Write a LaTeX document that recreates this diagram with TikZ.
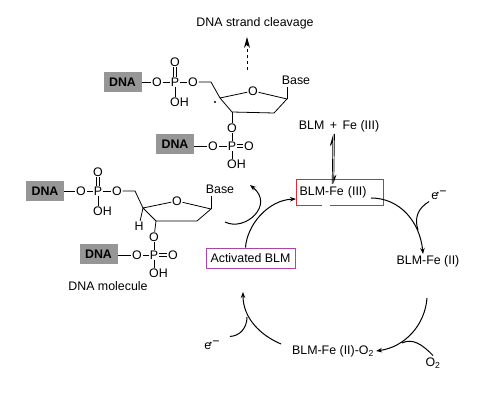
\documentclass[tikz,border=0pt]{standalone}
\usepackage{fontspec}
\setmainfont{Liberation Sans}
\usetikzlibrary{arrows.meta}
\definecolor{dnagray}{RGB}{150,150,150}
\definecolor{boxred}{RGB}{205,50,60}
\definecolor{boxpurple}{RGB}{170,70,170}
\tikzset{
  atom/.style={inner sep=0.6pt,font=\fontsize{12.4}{14}\selectfont},
  dnabox/.style={fill=dnagray,minimum width=38pt,minimum height=20pt,inner sep=0pt,font=\fontsize{12.4}{14}\selectfont\bfseries},
  label/.style={inner sep=2pt,font=\fontsize{12.4}{14}\selectfont},
  bond/.style={line width=0.8pt},
  cycle arrow/.style={line width=1pt,-{Stealth[length=6pt,width=4.5pt]}},
  cycle arc/.style={line width=1pt}
}
\newcommand{\eradical}{e\kern-1.5pt\raisebox{4pt}{\scriptsize•}\kern0.3pt\raisebox{4pt}{−}}
\begin{document}
\begin{tikzpicture}[x=1pt,y=-1pt]
\useasboundingbox[fill=white] (0,0) rectangle (498,411);
\node[label] (cleavage) at (255,23) {DNA strand cleavage};
\coordinate (cleavage-start) at (247,70);
\draw[line width=0.9pt,dashed,-{Stealth[length=11pt,width=6pt]}] (cleavage-start) -- ([yshift=-6pt]cleavage.south -| cleavage-start);
\node[dnabox] (dna-0-0) at (122.5,82) {DNA};
\node[atom] (o-0-0) at (157,82) {O};
\node[atom] (p-0-0) at (175,82) {P};
\node[atom] (o-0-1) at (193,82) {O};
\node[atom] (o-0-2) at (175,62) {O};
\node[atom] (oh-0-0) at (179.5,102) {OH};
\coordinate (ch-0-0) at (211,82);
\coordinate (c-0-0) at (220,98);
\node[atom] (o-0-3) at (253,91) {O};
\coordinate (c-0-1) at (287,99);
\coordinate (c-0-2) at (274,113);
\coordinate (c-0-3) at (232,112);
\node[label] (base-0) at (296,80) {Base};
\fill (215,102) circle (1.2pt);
\node[atom] (o-0-4) at (232,128) {O};
\node[atom] (p-0-1) at (232,146) {P};
\node[atom] (o-0-5) at (213,146) {O};
\node[atom] (o-0-6) at (249,146) {O};
\node[atom] (oh-0-1) at (236.5,164) {OH};
\node[dnabox] (dna-0-1) at (175,144) {DNA};
\draw[bond] (dna-0-0.east) -- (o-0-0);
\draw[bond] (o-0-0) -- (p-0-0);
\draw[bond] (p-0-0) -- (o-0-1);
\draw[bond] ([xshift=-1.6pt]p-0-0.north) -- ([xshift=-1.6pt]o-0-2.south);
\draw[bond] ([xshift=1.6pt]p-0-0.north) -- ([xshift=1.6pt]o-0-2.south);
\draw[bond] (p-0-0.south) -- (p-0-0.south |- oh-0-0.north);
\draw[bond] (o-0-1) -- (ch-0-0) -- (c-0-0) -- (o-0-3) -- (c-0-1) -- (c-0-2) -- (c-0-3) -- (c-0-0);
\draw[bond] (c-0-1) -- (c-0-1 |- base-0.south);
\draw[bond] (c-0-3) -- (o-0-4);
\draw[bond] (o-0-4) -- (p-0-1);
\draw[bond] (p-0-1) -- (o-0-5);
\draw[bond] (dna-0-1.east |- o-0-5) -- (o-0-5);
\draw[bond] ([yshift=-1.6pt]p-0-1.east) -- ([yshift=-1.6pt]o-0-6.west);
\draw[bond] ([yshift=1.6pt]p-0-1.east) -- ([yshift=1.6pt]o-0-6.west);
\draw[bond] (p-0-1.south) -- (p-0-1.south |- oh-0-1.north);
\node[dnabox] (dna-1-0) at (45,191) {DNA};
\node[atom] (o-1-0) at (81,191) {O};
\node[atom] (p-1-0) at (98,191) {P};
\node[atom] (o-1-1) at (117,191) {O};
\node[atom] (o-1-2) at (98,172) {O};
\node[atom] (oh-1-0) at (102.5,211) {OH};
\coordinate (ch-1-0) at (135,191);
\coordinate (c-1-0) at (143,208);
\node[atom] (o-1-3) at (177,201) {O};
\coordinate (c-1-1) at (211,209);
\coordinate (c-1-2) at (197,221);
\coordinate (c-1-3) at (156,221);
\node[atom] (h-1-0) at (139,226) {H};
\node[label] (base-1) at (220,189) {Base};
\node[atom] (o-1-4) at (154,237) {O};
\node[atom] (p-1-1) at (154,255) {P};
\node[atom] (o-1-5) at (137,255) {O};
\node[atom] (o-1-6) at (173,255) {O};
\node[atom] (oh-1-1) at (158.5,273) {OH};
\node[dnabox] (dna-1-1) at (98.5,254) {DNA};
\node[label] (molecule) at (108,286) {DNA molecule};
\draw[bond] (dna-1-0.east) -- (o-1-0);
\draw[bond] (o-1-0) -- (p-1-0);
\draw[bond] (p-1-0) -- (o-1-1);
\draw[bond] ([xshift=-1.6pt]p-1-0.north) -- ([xshift=-1.6pt]o-1-2.south);
\draw[bond] ([xshift=1.6pt]p-1-0.north) -- ([xshift=1.6pt]o-1-2.south);
\draw[bond] (p-1-0.south) -- (p-1-0.south |- oh-1-0.north);
\draw[bond] (o-1-1) -- (ch-1-0) -- (c-1-0) -- (o-1-3) -- (c-1-1) -- (c-1-2) -- (c-1-3) -- (c-1-0);
\draw[bond] (c-1-0) -- (h-1-0);
\draw[bond] (c-1-1) -- (c-1-1 |- base-1.south);
\draw[bond] (c-1-3) -- (o-1-4);
\draw[bond] (o-1-4) -- (p-1-1);
\draw[bond] (p-1-1) -- (o-1-5);
\draw[bond] (dna-1-1.east |- o-1-5) -- (o-1-5);
\draw[bond] ([yshift=-1.6pt]p-1-1.east) -- ([yshift=-1.6pt]o-1-6.west);
\draw[bond] ([yshift=1.6pt]p-1-1.east) -- ([yshift=1.6pt]o-1-6.west);
\draw[bond] (p-1-1.south) -- (p-1-1.south |- oh-1-1.north);
\node[label] (blm-fe) at (339,126) {BLM\, +\, Fe (III)};
\node[label,anchor=west,text width=80pt,inner xsep=3.5pt,inner ysep=0pt,minimum height=25pt] (blm-fe-iii) at (296,192.5) {BLM-Fe (III)};
\draw[boxred,line width=0.8pt] ([xshift=-18pt]blm-fe-iii.south) -| (blm-fe-iii.north west) -| (blm-fe-iii.south east) -- ([xshift=-10pt]blm-fe-iii.south);
\node[label,draw=boxpurple,line width=0.8pt,minimum width=89pt,minimum height=20pt,inner sep=0pt] (activated) at (250.5,258) {Activated BLM};
\node[label] (blm-fe-ii) at (428,261) {BLM-Fe (II)};
\node[label] (blm-fe-ii-o) at (333,351) {BLM-Fe (II)-O\textsubscript{2}};
\node[label] (o-two) at (433,363) {O\textsubscript{2}};
\node[label] (e-right) at (439,195) {\eradical};
\node[label] (e-left) at (212,345) {\eradical};
\draw[line width=0.7pt,-{Stealth[harpoon,length=11pt,width=6pt]}] ([xshift=-7.5pt,yshift=-4pt]blm-fe-iii.north) -- ([xshift=-6pt]blm-fe.south);
\draw[line width=0.7pt,-{Stealth[harpoon,length=8pt,width=5pt]}] ([xshift=-4.5pt]blm-fe.south) -- ([xshift=-6pt,yshift=-4pt]blm-fe-iii.north);
\coordinate (arc-start-0) at (225,222);
\coordinate (arc-end-0) at (250,185);
\draw[cycle arrow] (arc-start-0) .. controls (245,232) and (275,205) .. (arc-end-0);
\draw[cycle arrow] ([xshift=-5pt]activated.north) .. controls (247,225) and (268,200) .. ([yshift=-6.5pt]blm-fe-iii.west);
\coordinate (arc-start-1) at (371,198);
\draw[cycle arrow] (arc-start-1) .. controls (400,198) and (420,222) .. ([xshift=-5pt,yshift=-1pt]blm-fe-ii.north);
\draw[cycle arc] (e-right.south west) .. controls (418,208) and (414,218) .. (418,230);
\coordinate (arc-start-2) at (427,298);
\draw[cycle arrow] (arc-start-2) .. controls (425,325) and (405,347) .. (blm-fe-ii-o.east);
\draw[cycle arc] (o-two.north) .. controls (422,344) and (412,338) .. (402,343);
\coordinate (arc-start-3) at (281,344);
\coordinate (arc-end-3) at (243,292);
\draw[cycle arrow] (arc-start-3) .. controls (260,335) and (243,318) .. (arc-end-3);
\draw[cycle arc] (e-left.north east) ++(8,-2) .. controls (240,336) and (247,328) .. (247,317);
\end{tikzpicture}
\end{document}
